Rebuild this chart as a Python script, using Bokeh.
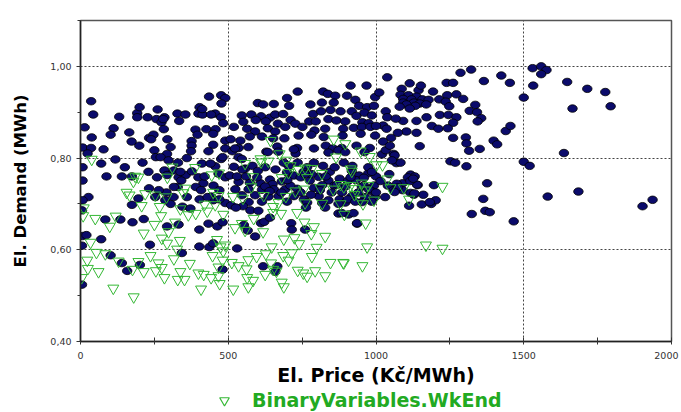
from bokeh.plotting import figure
from bokeh.layouts import column
from bokeh.models import FixedTicker, CustomJSTickFormatter, Legend, LegendItem
from bokeh.embed import file_html
from bokeh.resources import INLINE

# ---- data ----
x_ticks = [0, 500, 1000, 1500, 2000]
x_minor = [250, 750, 1250, 1750]
y_ticks = [0.40, 0.60, 0.80, 1.00]
y_minor = [0.50, 0.70, 0.90, 1.10]

wkday = [
 (36,0.924),(43,0.895),(14,0.867),(38,0.845),(7,0.823),(36,0.822),(24,0.81),(78,0.819),(7,0.78),(70,0.788),
 (7,0.751),(88,0.76),(118,0.797),(131,0.89),(112,0.865),(102,0.851),(165,0.856),(173,0.836),(199,0.827),(192,0.898),
 (200,0.911),(192,0.889),(227,0.889),(261,0.906),(257,0.885),(284,0.889),(274,0.878),(328,0.897),(355,0.895),(334,0.881),
 (403,0.911),(399,0.897),(413,0.895),(435,0.934),(476,0.937),(490,0.931),(456,0.897),(442,0.895),(476,0.889),(483,0.876),
 (389,0.862),(396,0.851),(426,0.863),(457,0.863),(449,0.853),(376,0.837),(376,0.827),(449,0.829),(490,0.838),(433,0.815),
 (490,0.821),(476,0.798),(456,0.782),(411,0.788),(399,0.758),(416,0.745),(467,0.766),(490,0.758),(232,0.844),(247,0.851),
 (239,0.841),(294,0.841),(305,0.824),(250,0.817),(293,0.809),(255,0.802),(271,0.802),(298,0.795),(284,0.773),(316,0.773),
 (293,0.763),(332,0.758),(356,0.763),(377,0.771),(341,0.751),(329,0.737),(291,0.725),(232,0.734),(196,0.712),(174,0.76),
 (27,0.715),(390,0.737),(408,0.73),(374,0.815),(477,0.919),(280,0.885),(282,0.863),(412,0.907),
 (7,0.708),(5,0.686),(84,0.666),(135,0.666),(176,0.66),(214,0.667),(174,0.698),(253,0.715),(287,0.708),(305,0.7),
 (293,0.651),(332,0.655),(345,0.694),(372,0.69),(403,0.71),(442,0.716),(449,0.708),(490,0.702),(402,0.644),(433,0.657),
 (463,0.651),(481,0.66),(7,0.63),(20,0.632),(70,0.623),(5,0.609),(235,0.611),(343,0.593),(402,0.607),(436,0.606),
 (449,0.614),(102,0.588),(140,0.571),(158,0.554),(201,0.567),(481,0.557),(5,0.524),
 (259,0.758),(338,0.77),(316,0.737),(440,0.788),(481,0.802),
 (330,0.79),(360,0.80),(420,0.76),(450,0.74),(470,0.73),(430,0.715),(470,0.71),(315,0.715),(360,0.715),(265,0.73),
 (230,0.77),(210,0.79),(150,0.78),(140,0.76),
 (735,0.945),(699,0.931),(914,0.958),(968,0.958),(821,0.945),(837,0.94),(862,0.936),(902,0.936),(930,0.927),(997,0.933),
 (600,0.92),(618,0.917),(654,0.918),(706,0.914),(778,0.917),(817,0.921),(857,0.921),(943,0.914),(970,0.911),(993,0.914),
 (546,0.893),(578,0.895),(611,0.891),(641,0.888),(659,0.895),(686,0.896),(787,0.896),(814,0.902),(846,0.905),(880,0.902),
 (918,0.902),(934,0.892),(961,0.899),(986,0.893),(551,0.879),(593,0.883),(627,0.88),(668,0.875),(711,0.883),(774,0.88),
 (796,0.88),(839,0.885),(866,0.882),(896,0.88),(954,0.878),(975,0.876),(519,0.868),(564,0.864),(591,0.858),(634,0.865),
 (659,0.858),(693,0.868),(727,0.875),(751,0.868),(792,0.86),(828,0.864),(889,0.864),(925,0.866),(952,0.868),(981,0.868),
 (508,0.841),(541,0.838),(573,0.847),(614,0.847),(652,0.843),(690,0.843),(738,0.849),(781,0.851),(823,0.846),(887,0.849),
 (948,0.853),(997,0.849),(535,0.822),(568,0.824),(629,0.814),(666,0.825),(733,0.822),(790,0.821),(830,0.827),(855,0.821),
 (884,0.822),(934,0.827),(979,0.822),(514,0.815),(728,0.81),(839,0.812),(535,0.802),
 (523,0.821),(634,0.813),(669,0.814),(722,0.819),(873,0.817),(896,0.813),(961,0.813),(546,0.798),(519,0.781),(557,0.777),
 (582,0.783),(505,0.762),(535,0.748),(573,0.746),(609,0.745),(641,0.753),(650,0.743),(681,0.749),(699,0.769),(704,0.783),
 (722,0.762),(745,0.758),(767,0.78),(790,0.79),(821,0.783),(844,0.77),(776,0.751),(806,0.759),(839,0.751),(877,0.755),
 (918,0.772),(943,0.762),(974,0.767),(920,0.783),(974,0.78),(993,0.74),(818,0.741),(859,0.74),(896,0.738),(952,0.738),
 (790,0.735),(733,0.733),(693,0.732),(654,0.732),(614,0.731),(569,0.732),(524,0.732),(510,0.697),(546,0.719),(591,0.719),
 (636,0.716),(670,0.717),(722,0.717),(756,0.71),(806,0.717),(839,0.708),(877,0.71),(918,0.717),(963,0.715),(997,0.715),
 (569,0.704),(614,0.705),(699,0.705),(767,0.703),(818,0.702),(896,0.703),(952,0.704),
 (548,0.775),(600,0.772),(625,0.78),(660,0.775),(688,0.79),(735,0.79),(755,0.77),(782,0.765),(830,0.76),(860,0.78),
 (905,0.75),(932,0.752),(960,0.74),(985,0.728),(598,0.758),(625,0.738),(680,0.725),(710,0.74),(745,0.725),(780,0.72),
 (850,0.725),(885,0.725),(940,0.725),(975,0.732),(530,0.76),(560,0.76),(640,0.728),(700,0.752),(760,0.765),(810,0.73),
 (868,0.742),(905,0.71),(930,0.705),(985,0.705),(1000,0.725),(1000,0.76),(1045,0.765),(1040,0.74),(1090,0.745),(1160,0.72),
 (550,0.695),(575,0.686),(602,0.685),(611,0.658),(622,0.661),(641,0.67),(553,0.654),(566,0.642),(591,0.629),(713,0.658),
 (715,0.644),(760,0.644),(763,0.692),(828,0.692),(873,0.679),(907,0.677),(936,0.657),(873,0.7),(530,0.603),(618,0.564),
 (666,0.564),(659,0.552),(526,0.692),
 (891,0.79),(1020,0.808),(1060,0.809),(1069,0.789),(1083,0.79),(1252,0.793),(1268,0.79),(986,0.77),(959,0.757),(914,0.758),
 (1117,0.764),(1131,0.76),(1108,0.758),(1141,0.741),(1196,0.741),(1015,0.75),(1070,0.744),(1060,0.73),(1090,0.73),(1031,0.715),
 (1117,0.724),(1128,0.72),(1112,0.696),(1155,0.699),(1187,0.7),(1202,0.708),(936,0.658),(924,0.68),(884,0.68),
 (1322,0.993),(1286,0.986),(1038,0.976),(1424,0.98),(1365,0.968),(1453,0.964),(1239,0.964),(1261,0.964),(1114,0.963),(1087,0.951),
 (1144,0.948),(1011,0.943),(1193,0.945),(1241,0.937),(1272,0.939),(1295,0.929),(1083,0.938),(1110,0.937),(1137,0.934),(1092,0.929),
 (1120,0.928),(1157,0.928),(1178,0.927),(1214,0.928),(1236,0.923),(1092,0.921),(1128,0.921),(1148,0.919),(1170,0.917),(1133,0.914),
 (1103,0.917),(1080,0.912),(1114,0.908),(1336,0.916),(1317,0.903),(1342,0.9),(1356,0.887),(1344,0.88),(1248,0.913),(1216,0.894),
 (1245,0.894),(1272,0.889),(1261,0.877),(1171,0.889),(1137,0.881),(1092,0.881),(1033,0.902),(1038,0.889),(1067,0.886),(1024,0.871),
 (1000,0.87),(1189,0.87),(1211,0.864),(1243,0.865),(1103,0.858),(1137,0.855),(1074,0.855),(1036,0.864),(1051,0.844),(1024,0.836),
 (1033,0.817),(1063,0.806),(1047,0.827),(1148,0.826),(1261,0.844),(1304,0.845),(1306,0.832),(1315,0.816),(1351,0.82),(1398,0.838),
 (1410,0.83),(1439,0.859),(1455,0.87),(1306,0.782),(1376,0.745),(1363,0.711),(1324,0.678),(1370,0.685),(1385,0.682),(1054,0.795),
 (1139,0.742),(1116,0.75),(1126,0.755),(1074,0.736),(1063,0.726),(1130,0.723),(1182,0.704),(1152,0.958),
 (1530,0.996),(1559,1.0),(1577,0.992),(1559,0.983),(1532,0.958),(1647,0.966),(1715,0.951),(1776,0.944),(1500,0.932),(1665,0.908),
 (1794,0.913),(1636,0.811),(1500,0.792),(1520,0.783),(1581,0.716),(1685,0.727),(1902,0.695),(1936,0.709),(1466,0.662),
]

wkend = [
 (38,0.797),(185,0.76),(196,0.758),(179,0.749),(311,0.78),(294,0.758),(388,0.779),(354,0.734),(156,0.725),(166,0.719),
 (219,0.722),(253,0.719),(291,0.715),(444,0.763),(469,0.767),(449,0.725),(467,0.718),
 (348,0.724),(207,0.696),(268,0.694),(338,0.689),(365,0.676),(390,0.679),(420,0.699),(429,0.684),(456,0.698),(483,0.677),
 (11,0.691),(9,0.674),(50,0.668),(99,0.651),(119,0.673),(250,0.655),(273,0.674),(298,0.639),(214,0.636),(320,0.66),
 (275,0.625),(293,0.614),(336,0.62),(462,0.622),(474,0.606),(34,0.616),(54,0.594),(84,0.591),(23,0.577),(25,0.559),
 (61,0.552),(129,0.575),(196,0.574),(237,0.587),(327,0.601),(316,0.58),(264,0.571),(275,0.561),(214,0.552),(176,0.557),
 (255,0.554),(284,0.539),(338,0.552),(352,0.535),(329,0.535),(370,0.57),(399,0.549),(417,0.546),(442,0.539),(467,0.543),
 (471,0.526),(408,0.514),(447,0.587),(481,0.577),(467,0.562),(4,0.539),(111,0.516),(180,0.497),(483,0.597),(490,0.61),
 (546,0.657),(523,0.648),(557,0.642),(618,0.639),(652,0.681),(679,0.679),(733,0.681),(758,0.66),(790,0.65),(828,0.629),
 (781,0.635),(688,0.623),(724,0.626),(740,0.613),(715,0.593),(647,0.606),(799,0.605),(783,0.585),(846,0.572),(889,0.572),
 (954,0.565),(970,0.606),(965,0.658),(586,0.668),(596,0.585),(627,0.591),(686,0.587),(704,0.577),(568,0.578),(512,0.572),
 (535,0.565),(562,0.558),(645,0.571),(625,0.546),(564,0.539),(584,0.533),(517,0.514),(568,0.519),(688,0.519),(681,0.529),
 (754,0.549),(767,0.542),(794,0.554),(828,0.543),(735,0.555),(652,0.557),(663,0.553),
 (891,0.571),(1169,0.61),(1225,0.603),(979,0.803),(1002,0.785),(1022,0.785),(918,0.771),(1038,0.754),(891,0.737),(1225,0.738),
 (1049,0.735),(1094,0.735),(1112,0.71),(993,0.708),(927,0.72),(947,0.71),(956,0.70),(893,0.677),(896,0.831),(948,0.815),
 (914,0.776),
 (557,0.788),(611,0.791),(584,0.759),(681,0.757),(704,0.768),(760,0.778),(783,0.777),(738,0.775),(767,0.757),(880,0.742),
 (914,0.74),(952,0.745),(974,0.74),(812,0.735),(855,0.732),(929,0.733),(963,0.73),(756,0.732),(727,0.728),(695,0.716),
 (620,0.718),(550,0.712),(516,0.716),(670,0.703),(760,0.702),(818,0.701),(880,0.7),(865,0.802),(652,0.694),(697,0.795),
 (643,0.838),(674,0.809),(857,0.841),(609,0.798),(636,0.793),(711,0.783),(817,0.766),(578,0.737),
]

wkday_price = [a for a, b in wkday]
wkday_demand = [b for a, b in wkday]
wkend_price = [a for a, b in wkend]
wkend_demand = [b for a, b in wkend]
legend_label = "BinaryVariables.WkEnd"

NAVY = "#0b0b6b"
GREEN = "#34b834"
TICK_FONT = "DejaVu Sans"
W = 681

p = figure(width=W, height=388, x_range=(0, 2000), y_range=(0.40, 1.10),
           output_backend="svg", toolbar_location=None,
           min_border_left=80, min_border_right=10, min_border_top=20, min_border_bottom=47,
           background_fill_color="white", border_fill_color="white")

p.outline_line_color = "#555555"
p.outline_line_width = 1.5

# axes
p.xaxis.ticker = FixedTicker(ticks=x_ticks, minor_ticks=x_minor)
p.yaxis.ticker = FixedTicker(ticks=y_ticks, minor_ticks=y_minor)
# last label padded with one no-break space so that it stays inside the canvas
p.xaxis.formatter = CustomJSTickFormatter(
    code="return tick >= 2000 ? '2000\\u00a0' : tick.toFixed(0);")
p.yaxis.formatter = CustomJSTickFormatter(code="return tick.toFixed(2).replace('.', ',');")

for ax in (p.xaxis, p.yaxis):
    ax.axis_line_color = "#222222"
    ax.axis_line_width = 1.5
    ax.major_tick_line_color = "#333333"
    ax.minor_tick_line_color = "#333333"
    ax.major_label_text_font = TICK_FONT
    ax.major_label_text_font_size = "9.5px"
    ax.major_label_text_color = "#333333"
    ax.major_label_text_line_height = 1.0
    ax.axis_label_text_font = "DejaVu Sans"
    ax.axis_label_text_font_style = "bold"
    ax.axis_label_text_color = "black"
    ax.axis_label_text_line_height = 1.0

p.xaxis.major_tick_in = 4
p.xaxis.major_tick_out = 3
p.xaxis.minor_tick_in = 4
p.xaxis.minor_tick_out = 3
p.xaxis.major_label_standoff = 5
p.xaxis.axis_label = "El. Price (Kč/MWh)"
p.xaxis.axis_label_text_font_size = "19px"
p.xaxis.axis_label_standoff = 0

p.yaxis.major_tick_in = 0
p.yaxis.major_tick_out = 4
p.yaxis.minor_tick_in = 0
p.yaxis.minor_tick_out = 3
p.yaxis.major_label_standoff = 5
p.yaxis.axis_label = "El. Demand (MWh)"
p.yaxis.axis_label_text_font_size = "16.5px"
p.yaxis.axis_label_standoff = 17

# grid
p.xgrid.ticker = FixedTicker(ticks=[500, 1000, 1500])
p.ygrid.ticker = FixedTicker(ticks=[0.60, 0.80, 1.00])
for g in (p.xgrid, p.ygrid):
    g.grid_line_color = "#444444"
    g.grid_line_dash = "2 2"
    g.grid_line_width = 1

# marks
p.ellipse(x=wkday_price, y=wkday_demand, width=9.5, height=7.5,
          width_units="screen", height_units="screen",
          fill_color=NAVY, line_color="black", line_width=0.8)
p.scatter(x=wkend_price, y=wkend_demand, marker="inverted_triangle", size=11,
          fill_alpha=0, line_color=GREEN, line_width=1)

# legend strip below the chart (its key renderer sits outside the strip's visible range)
lg = figure(width=W, height=24, x_range=(0, 1), y_range=(0, 1),
            x_axis_location=None, y_axis_location=None,
            output_backend="svg", toolbar_location=None, min_border=0,
            outline_line_color=None, background_fill_color="white", border_fill_color="white")
lg.xgrid.visible = False
lg.ygrid.visible = False
key = lg.scatter(x=[5], y=[5], marker="inverted_triangle", size=11,
                 fill_alpha=0, line_color=GREEN, line_width=1.2)
legend = Legend(items=[LegendItem(label=legend_label, renderers=[key])],
                location=(124, 0), orientation="horizontal",
                glyph_width=40, glyph_height=24, label_standoff=8, label_height=20,
                padding=0, margin=0, spacing=0,
                border_line_color=None, background_fill_alpha=0,
                label_text_font="DejaVu Sans", label_text_font_style="bold",
                label_text_font_size="19px", label_text_color="#22aa22")
lg.add_layout(legend, "center")

layout = column(p, lg, spacing=0)
open("out.html", "w").write(file_html(layout, INLINE))
